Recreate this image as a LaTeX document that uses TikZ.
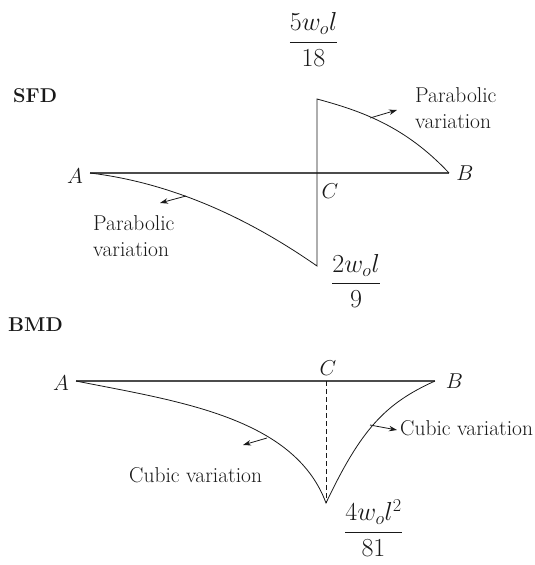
\RequirePackage{fix-cm}
\documentclass[tikz,border=0pt]{standalone}
\usepackage{amsmath}
\usetikzlibrary{arrows.meta}

\tikzset{
  lbl/.style={font=\fontsize{21.5}{26}\selectfont, text=black!90, inner sep=0pt},
  title/.style={font=\fontsize{20}{24}\selectfont\bfseries, text=black!90, inner sep=0pt, anchor=base west},
  frac/.style={font=\fontsize{26}{30}\selectfont, text=black!90, inner sep=0pt, anchor=base},
  axis/.style={black!70, line width=1.2pt},
  curve/.style={black!90, line width=0.8pt, line join=miter},
  pointer/.style={-{Stealth[length=8pt, width=5.5pt]}, black!90, line width=0.8pt},
}

\begin{document}
\begin{tikzpicture}[x=1pt, y=-1pt]
  \useasboundingbox (0,0) rectangle (535,565);

  % Shear force diagram
  \node[title] (sfd) at (13,102) {SFD};
  \coordinate (sA) at (90,173);
  \coordinate (sB) at (449,173);
  \coordinate (sTop) at (317,99);
  \coordinate (sBot) at (317,266);
  \draw[axis] (sA) -- (sB);
  \draw[curve] (sA) .. controls (165.7,182.2) and (241.3,213.2) .. (sBot) -- (sTop)
    .. controls (361,110.9) and (405,126) .. (sB);
  \node[lbl, anchor=base] (sAlbl) at (75,183) {$A$};
  \node[lbl, anchor=base] (sBlbl) at (465,180) {$B$};
  \node[lbl, anchor=base] (sClbl) at (330,198) {$C$};
  \node[frac] (vmax) at (313.5,48.5) {$\dfrac{5w_o l}{18}$};
  \node[frac] (vmin) at (356,290) {$\dfrac{2w_o l}{9}$};
  % Parabolic labels
  \coordinate (sp1) at (186,196);
  \coordinate (sq1) at (160,203);
  \coordinate (sp2) at (370,118);
  \coordinate (sq2) at (397,110);
  \draw[pointer] (sp1) -- (sq1);
  \draw[pointer] (sp2) -- (sq2);
  \node[lbl, align=left, anchor=north west] (parL) at (93,215) {Parabolic\\variation};
  \node[lbl, align=left, anchor=north west] (parR) at (415,87) {Parabolic\\variation};

  % Bending moment diagram
  \node[title] (bmd) at (8,331) {BMD};
  \coordinate (bA) at (76,381);
  \coordinate (bB) at (435,381);
  \coordinate (bC) at (326,381);
  \coordinate (bTip) at (326,503);
  \draw[axis] (bA) -- (bB);
  \draw[curve] (bA) .. controls (176,401) and (294,416.6) .. (bTip)
    .. controls (361,429.5) and (385,403.5) .. (bB);
  \draw[black!90, line width=0.7pt, dash pattern=on 5pt off 3pt] (bC) -- (bTip);
  \node[lbl, anchor=base] (bAlbl) at (61,390) {$A$};
  \node[lbl, anchor=base] (bBlbl) at (454.5,388) {$B$};
  \node[lbl, anchor=base] (bClbl) at (328,375) {$C$};
  \node[frac] (mmax) at (373.5,538.5) {$\dfrac{4w_o l^2}{81}$};
  % Cubic labels
  \coordinate (bp1) at (267,438);
  \coordinate (bq1) at (243,445);
  \coordinate (bp2) at (370,425);
  \coordinate (bq2) at (397,430);
  \draw[pointer] (bp1) -- (bq1);
  \draw[pointer] (bp2) -- (bq2);
  \node[lbl, anchor=base west] (cubL) at (129,482) {Cubic variation};
  \node[lbl, anchor=base west] (cubR) at (400,435) {Cubic variation};
\end{tikzpicture}
\end{document}
